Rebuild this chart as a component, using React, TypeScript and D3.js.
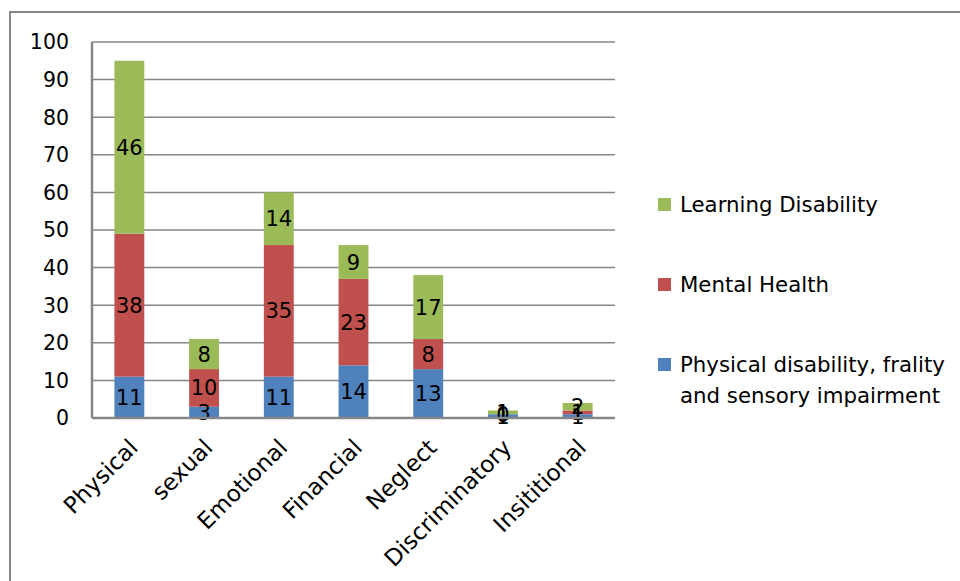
import * as d3 from "d3";

const categories = ["Physical", "sexual", "Emotional", "Financial", "Neglect", "Discriminatory", "Insititional"];
const physicalDisability = [11, 3, 11, 14, 13, 1, 1];
const mentalHealth = [38, 10, 35, 23, 8, 0, 1];
const learningDisability = [46, 8, 14, 9, 17, 1, 2];
const yTicks = [0, 10, 20, 30, 40, 50, 60, 70, 80, 90, 100];

const seriesList = [
  { name: "Physical disability, frality and sensory impairment", values: physicalDisability, color: "#4F81BD" },
  { name: "Mental Health", values: mentalHealth, color: "#C0504D" },
  { name: "Learning Disability", values: learningDisability, color: "#9BBB59" },
];

const W = 960;
const H = 581;
const m = { left: 92, right: 615, top: 42, bottom: 418 };
const font = "'DejaVu Sans', sans-serif";
const axisGray = "#868686";

const App = () => {
  const x = d3.scaleBand<string>()
    .domain(categories)
    .range([m.left, m.right])
    .paddingInner(0.6)
    .paddingOuter(0.3);
  const y = d3.scaleLinear().domain([0, 100]).range([m.bottom, m.top]);

  const rows = categories.map((c, i) => {
    const r: any = { cat: c };
    seriesList.forEach((s, k) => (r["s" + k] = s.values[i]));
    return r;
  });
  const stacked = d3.stack<any>().keys(seriesList.map((_, k) => "s" + k))(rows);

  // legend goes top to bottom in reverse stack order
  const legendItems = [...seriesList].reverse();
  const legendY = [198, 278, 358];

  return (
    <svg width={W} height={H} style={{ position: "absolute", left: 0, top: 0, background: "#fff" }}>
      <rect x={10} y={12} width={W + 20} height={H + 20} fill="none" stroke={axisGray} strokeWidth={2} />
      {yTicks.map((t) => (
        <g key={t}>
          {t > 0 && (
            <line x1={m.left} x2={m.right} y1={y(t)} y2={y(t)} stroke={axisGray} strokeWidth={1.5} />
          )}
          <text x={69} y={y(t)} dy="0.36em" textAnchor="end" fontFamily={font} fontSize={20.5} fill="#000">
            {t}
          </text>
        </g>
      ))}
      {stacked.map((layer, k) => (
        <g key={k} fill={seriesList[k].color}>
          {layer.map((d, i) => (
            <rect
              key={i}
              x={x(categories[i])!}
              y={y(d[1])}
              width={x.bandwidth()}
              height={y(d[0]) - y(d[1])}
            />
          ))}
        </g>
      ))}
      {stacked.map((layer, k) => (
        <g key={"l" + k}>
          {layer.map((d, i) => (
            <text
              key={i}
              x={x(categories[i])! + x.bandwidth() / 2}
              y={y((d[0] + d[1]) / 2)}
              dy="0.36em"
              textAnchor="middle"
              fontFamily={font}
              fontSize={21}
              fill="#000"
            >
              {seriesList[k].values[i]}
            </text>
          ))}
        </g>
      ))}
      <line x1={m.left} x2={m.left} y1={m.top} y2={m.bottom} stroke={axisGray} strokeWidth={2.5} />
      <line x1={m.left} x2={m.right} y1={m.bottom} y2={m.bottom} stroke={axisGray} strokeWidth={2.5} />
      {categories.map((c) => {
        const cx = x(c)! + x.bandwidth() / 2;
        return (
          <text
            key={c}
            transform={`translate(${cx + 10},${m.bottom + 31}) rotate(-45)`}
            textAnchor="end"
            fontFamily={font}
            fontSize={23}
            fill="#000"
          >
            {c}
          </text>
        );
      })}
      {legendItems.map((s, i) => {
        const words = s.name === seriesList[0].name
          ? ["Physical disability, frality", "and sensory impairment"]
          : [s.name];
        return (
          <g key={s.name}>
            <rect x={658} y={legendY[i]} width={13} height={13} fill={s.color} />
            <text x={680} y={legendY[i] + 14} fontFamily={font} fontSize={21.3} fill="#000">
              {words.map((w, j) => (
                <tspan key={j} x={680} dy={j === 0 ? 0 : 31}>
                  {w}
                </tspan>
              ))}
            </text>
          </g>
        );
      })}
    </svg>
  );
};

export default App;
